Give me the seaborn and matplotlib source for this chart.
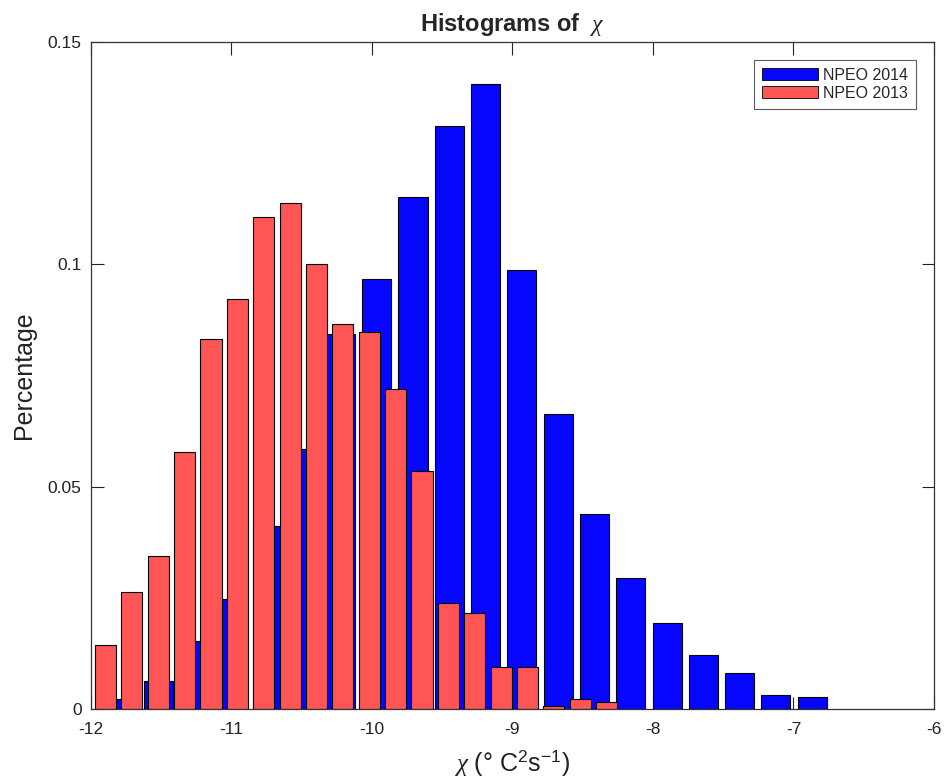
import numpy as np
import pandas as pd
import matplotlib
matplotlib.use("Agg")
import matplotlib.pyplot as plt
from matplotlib.patches import Patch
import seaborn as sns

# Bin centres and fraction of samples per bin, log10(chi)
npeo2014_centers = [-11.772, -11.514, -11.256, -10.997, -10.739, -10.481, -10.223,
                    -9.965, -9.707, -9.448, -9.190, -8.932, -8.674, -8.416, -8.158,
                    -7.899, -7.641, -7.383, -7.125, -6.867]
npeo2014_pct = [0.0022, 0.0063, 0.0152, 0.0247, 0.0412, 0.0584, 0.0843, 0.0966,
                0.1151, 0.1312, 0.1406, 0.0988, 0.0664, 0.0439, 0.0295, 0.0193,
                0.0121, 0.0081, 0.0031, 0.0027]

npeo2013_centers = [-11.893, -11.705, -11.518, -11.330, -11.143, -10.955, -10.767,
                    -10.580, -10.392, -10.205, -10.017, -9.829, -9.642, -9.454,
                    -9.267, -9.079, -8.891, -8.704, -8.516, -8.328]
npeo2013_pct = [0.0144, 0.0263, 0.0344, 0.0577, 0.0833, 0.0921, 0.1106, 0.1138,
                0.1001, 0.0865, 0.0849, 0.0720, 0.0536, 0.0239, 0.0215, 0.0095,
                0.0095, 0.0007, 0.0023, 0.0015]

series_labels = ["NPEO 2014", "NPEO 2013"]
x_ticks = [-12, -11, -10, -9, -8, -7, -6]
y_ticks = [0, 0.05, 0.1, 0.15]
y_tick_labels = ["0", "0.05", "0.1", "0.15"]

BLUE = "#0606FF"
RED = "#FF5555"

sns.set_style("ticks")
plt.rcParams["font.family"] = ["Liberation Sans", "DejaVu Sans"]
plt.rcParams["mathtext.fontset"] = "custom"
plt.rcParams["mathtext.rm"] = "Liberation Sans"
plt.rcParams["mathtext.it"] = "Liberation Serif:italic"
plt.rcParams["mathtext.bf"] = "Liberation Sans:bold"


def edges_from_centers(c):
    c = np.asarray(c)
    step = np.diff(c).mean()
    return np.concatenate([c - step / 2, [c[-1] + step / 2]]).tolist()


fig = plt.figure(figsize=(9.45, 7.8), dpi=100)
ax = fig.add_axes([0.0958, 0.0909, 0.8926, 0.8553])

for centers, pct, color in [(npeo2014_centers, npeo2014_pct, BLUE),
                            (npeo2013_centers, npeo2013_pct, RED)]:
    df = pd.DataFrame({"chi": centers, "pct": pct})
    sns.histplot(data=df, x="chi", weights="pct", bins=edges_from_centers(centers),
                 shrink=0.8, color=color, alpha=1, edgecolor="black",
                 linewidth=0.8, ax=ax)

ax.set_xlim(-12, -6)
ax.set_ylim(0, 0.15)
ax.set_xticks(x_ticks)
ax.set_xticklabels([str(t) for t in x_ticks])
ax.set_yticks(y_ticks)
ax.set_yticklabels(y_tick_labels)
ax.tick_params(direction="in", length=9, width=0.8, top=True, right=True,
               labelsize=12.5, colors="#222222")
ax.tick_params(axis="x", pad=9)
ax.tick_params(axis="y", pad=6.5)
for s in ax.spines.values():
    s.set_visible(True)
    s.set_linewidth(0.9)
    s.set_color("#333333")

ax.set_xlabel(r"$\chi$ (° C$^{2}$s$^{-1}$)", fontsize=18, color="#222222", labelpad=8)
ax.set_ylabel("Percentage", fontsize=18, color="#222222", labelpad=8)
ax.set_title(r"Histograms of  $\chi$", fontsize=17, fontweight="bold", pad=8)

handles = [Patch(facecolor=BLUE, edgecolor="black", linewidth=0.6),
           Patch(facecolor=RED, edgecolor="black", linewidth=0.6)]
leg = ax.legend(handles, series_labels, loc="upper right", fontsize=11.5,
                frameon=True, fancybox=False, handlelength=3.5, handleheight=0.75,
                handletextpad=0.35, borderpad=0.5, labelspacing=0.2,
                borderaxespad=1.1)
leg.get_frame().set_edgecolor("#333333")
leg.get_frame().set_linewidth(0.8)

fig.savefig("out.png", dpi=100, facecolor="white")
